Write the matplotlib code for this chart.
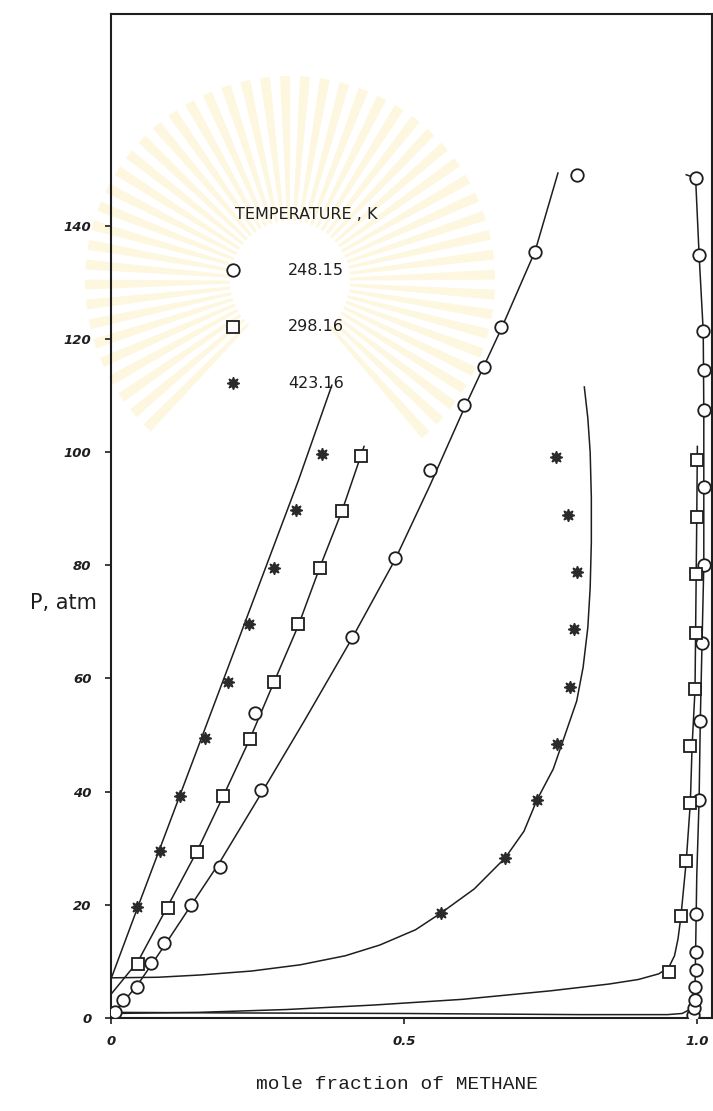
import numpy as np
import matplotlib
matplotlib.use('Agg')
import matplotlib.pyplot as plt
from matplotlib.patches import Wedge

# ── Measured points (x = mole fraction CH4, P in atm) ─────────
# 248.15 K, liquid branch
x_248_liq = [0.007, 0.021, 0.045, 0.068, 0.090, 0.136, 0.186, 0.256, 0.246,
             0.411, 0.485, 0.544, 0.602, 0.636, 0.665, 0.724, 0.796]
p_248_liq = [1.1, 3.2, 5.4, 9.7, 13.2, 20.0, 26.7, 40.3, 53.9,
             67.4, 81.3, 96.8, 108.3, 115.1, 122.1, 135.4, 149.0]
# 248.15 K, vapour branch
x_248_vap = [0.993, 0.995, 0.997, 0.997, 0.998, 0.999, 0.999, 1.004,
             1.006, 1.009, 1.012, 1.012, 1.012, 1.012, 1.011, 1.004, 0.998]
p_248_vap = [0.5, 1.8, 3.2, 5.5, 8.5, 11.7, 18.3, 38.6,
             52.5, 66.3, 80.0, 93.8, 107.4, 114.5, 121.4, 134.8, 148.4]

# 298.16 K
x_298_liq = [0.046, 0.097, 0.147, 0.192, 0.237, 0.278, 0.320, 0.356, 0.394, 0.426]
p_298_liq = [9.6, 19.5, 29.3, 39.3, 49.3, 59.3, 69.6, 79.5, 89.5, 99.3]
x_298_vap = [0.952, 0.973, 0.982, 0.989, 0.989, 0.997, 0.998, 0.999, 1.001, 1.001]
p_298_vap = [8.2, 18.0, 27.7, 38.0, 48.1, 58.1, 68.1, 78.4, 88.5, 98.6]

# 423.16 K
x_423_liq = [0.045, 0.083, 0.117, 0.160, 0.200, 0.236, 0.278, 0.316, 0.360]
p_423_liq = [19.6, 29.5, 39.3, 49.4, 59.4, 69.6, 79.6, 89.7, 99.7]
x_423_vap = [0.564, 0.673, 0.727, 0.762, 0.783, 0.791, 0.795, 0.781, 0.759]
p_423_vap = [18.6, 28.3, 38.5, 48.4, 58.5, 68.7, 78.8, 88.9, 99.1]

# ── Calculated phase envelopes ────────────────────────────────
cx_248_bub = [0.0, 0.045, 0.09, 0.136, 0.186, 0.256, 0.33, 0.411, 0.485,
              0.544, 0.602, 0.665, 0.724, 0.763]
cp_248_bub = [0.3, 5.8, 12.6, 19.8, 27.6, 39.6, 52.5, 67.0, 81.0,
              94.0, 107.5, 121.5, 135.5, 149.3]
cx_248_dew = [0.0, 0.2, 0.5, 0.8, 0.95, 0.975, 0.988, 0.993, 0.997, 0.998,
              0.999, 1.000, 1.004, 1.006, 1.009, 1.012, 1.012, 1.012,
              1.011, 1.004, 0.998, 0.982]
cp_248_dew = [1.0, 0.9, 0.8, 0.6, 0.6, 0.8, 1.5, 2.5, 5.5, 11.7,
              18.3, 25.2, 38.6, 52.5, 66.3, 80.0, 93.8, 107.4,
              121.4, 134.8, 148.4, 149.0]

cx_298_bub = [0.0, 0.046, 0.097, 0.147, 0.192, 0.237, 0.278, 0.320, 0.356,
              0.394, 0.432]
cp_298_bub = [4.2, 10.0, 19.8, 29.5, 39.3, 49.3, 59.3, 69.4, 79.5,
              89.5, 101.0]
cx_298_dew = [0.0, 0.15, 0.30, 0.45, 0.60, 0.75, 0.85, 0.90, 0.935, 0.952,
              0.962, 0.968, 0.973, 0.982, 0.989, 0.992, 0.997, 0.998,
              0.999, 1.000, 1.001]
cp_298_dew = [0.8, 1.0, 1.5, 2.3, 3.3, 4.8, 6.0, 6.8, 7.8, 8.9,
              11.0, 14.0, 18.0, 27.7, 38.0, 48.0, 58.0, 68.0,
              78.4, 88.5, 101.0]

cx_423_bub = [0.0, 0.045, 0.10, 0.16, 0.20, 0.26, 0.32, 0.377]
cp_423_bub = [6.9, 19.4, 34.5, 51.0, 62.0, 78.5, 95.0, 111.8]
cx_423_dew = [0.0, 0.08, 0.152, 0.24, 0.323, 0.40, 0.459, 0.52, 0.564,
              0.62, 0.673, 0.705, 0.727, 0.755, 0.775, 0.795, 0.806,
              0.814, 0.818, 0.820, 0.820, 0.818, 0.814, 0.808]
cp_423_dew = [7.1, 7.2, 7.6, 8.3, 9.4, 11.0, 12.9, 15.6, 18.6,
              22.8, 28.3, 33.0, 38.5, 44.0, 50.0, 56.0, 62.0,
              69.0, 76.0, 84.0, 92.0, 100.0, 106.0, 111.5]

temps = ['248.15', '298.16', '423.16']

INK = '#1e1e1e'

fig = plt.figure(figsize=(7.13, 11.11), dpi=100)

# faint library stamp behind the plot
for k in range(50):
    a0 = -50 + k * 5.6
    fig.patches.append(Wedge((2.9, 8.3), 2.05, a0, a0 + 2.8, width=1.45,
                             transform=fig.dpi_scale_trans,
                             facecolor='#fdf7e0', edgecolor='none',
                             zorder=0))

ax = fig.add_axes([0.1557, 0.0837, 0.8429, 0.9037])
ax.set_zorder(2)
ax.patch.set_alpha(0)

line_kw = dict(color=INK, linewidth=1.1, zorder=2)
for cx, cp in [(cx_248_bub, cp_248_bub), (cx_248_dew, cp_248_dew),
               (cx_298_bub, cp_298_bub), (cx_298_dew, cp_298_dew),
               (cx_423_bub, cp_423_bub), (cx_423_dew, cp_423_dew)]:
    ax.plot(cx, cp, **line_kw)

circ = dict(marker='o', markersize=9, markerfacecolor='white',
            markeredgecolor=INK, markeredgewidth=1.3, linestyle='none', zorder=3)
sq = dict(marker='s', markersize=8.5, markerfacecolor='white',
          markeredgecolor=INK, markeredgewidth=1.3, linestyle='none', zorder=3)
star = dict(marker=(8, 1, 0), markersize=9, color='#2a2a2a',
            linestyle='none', zorder=3)

ax.plot(x_248_liq, p_248_liq, **circ)
ax.plot(x_248_vap, p_248_vap, **circ)
ax.plot(x_298_liq, p_298_liq, **sq)
ax.plot(x_298_vap, p_298_vap, **sq)
ax.plot(x_423_liq, p_423_liq, **star)
ax.plot(x_423_vap, p_423_vap, **star)

# key block
ax.text(0.206, 0.800, 'TEMPERATURE , K', transform=ax.transAxes,
        fontsize=11.5, color=INK, va='center')
key_styles = [circ, sq, star]
for i, (t, st) in enumerate(zip(temps, key_styles)):
    yk = 0.745 - i * 0.0565
    ax.plot([0.203], [yk], transform=ax.transAxes, clip_on=False, **st)
    ax.text(0.295, yk, t, transform=ax.transAxes, fontsize=11.5,
            color=INK, va='center')

ax.set_xlim(0, 1.026)
ax.set_ylim(0, 177.4)
ax.set_xticks([0, 0.5, 1.0])
ax.set_xticklabels(['0', '0.5', '1.0'])
ax.set_yticks(np.arange(0, 141, 20))
ax.tick_params(direction='out', length=4, width=1.2, colors=INK,
               labelsize=9.5)
ax.tick_params(axis='y', pad=10)
ax.tick_params(axis='x', pad=8)
for lab in ax.get_xticklabels() + ax.get_yticklabels():
    lab.set_fontweight('bold')
    lab.set_fontstyle('italic')
for side in ['left', 'top', 'right', 'bottom']:
    ax.spines[side].set_linewidth(1.5)
    ax.spines[side].set_color(INK)

ax.set_xlabel('mole fraction of METHANE', family='Liberation Mono',
              fontsize=14, color=INK)
ax.xaxis.set_label_coords(0.476, -0.058)
fig.text(0.042, 0.457, 'P, atm', fontsize=15, color=INK, va='center')

fig.savefig('out.png', dpi=100)
